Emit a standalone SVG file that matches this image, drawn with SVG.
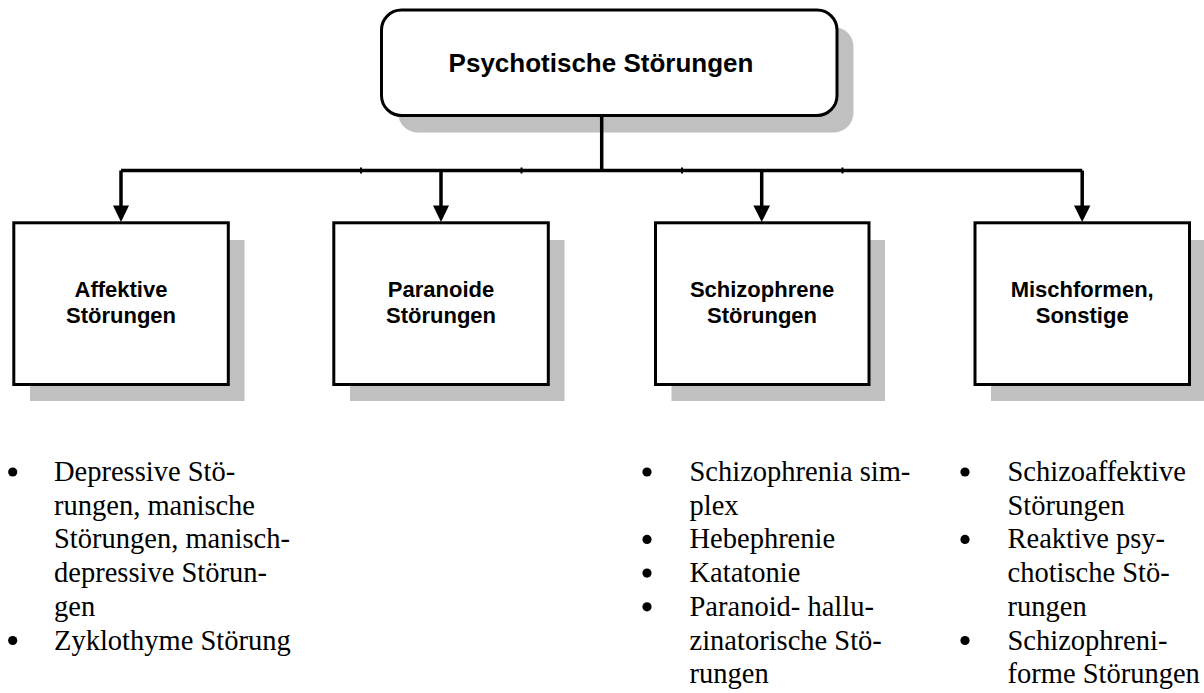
<svg xmlns="http://www.w3.org/2000/svg" width="1204" height="693" viewBox="0 0 1204 693">
  <style>
    .shadow { fill: #c0c0c0; stroke: none; }
    .box { fill: #ffffff; stroke: #000000; stroke-width: 3; }
    .title { font-family: "Liberation Sans", Arial, sans-serif; font-weight: bold; font-size: 26px; fill: #000; text-anchor: middle; }
    .label { font-family: "Liberation Sans", Arial, sans-serif; font-weight: bold; font-size: 22px; fill: #000; text-anchor: middle; }
    .item { font-family: "Liberation Serif", "Times New Roman", serif; font-size: 28.5px; fill: #000; }
    .dot { fill: #000; }
    .wire { fill: none; stroke: #000000; stroke-width: 3.5; }
    .head { fill: #000000; stroke: none; }
  </style>

  <rect width="1204" height="693" fill="#ffffff"/>

  <!-- root node -->
  <g id="node-root">
    <rect class="shadow" x="398" y="27" width="455.5" height="105.5" rx="20" ry="20"/>
    <rect class="box" x="381.5" y="10" width="455.5" height="105.5" rx="20" ry="20"/>
    <text class="title" x="601" y="71.5">Psychotische Störungen</text>
  </g>

  <!-- connectors -->
  <g id="connectors">
    <path class="wire" d="M601.7 116 V170.5"/>
    <path class="wire" d="M121 170.5 H1082.2"/>
    <!-- segment joints on the bus -->
    <rect class="head" x="360" y="167.5" width="2" height="6"/>
    <rect class="head" x="520.5" y="167.5" width="2" height="6"/>
    <rect class="head" x="681" y="167.5" width="2" height="6"/>
    <rect class="head" x="841.5" y="167.5" width="2" height="6"/>
    <path class="wire" d="M121 170.5 V207"/>
    <path class="wire" d="M441 170.5 V207"/>
    <path class="wire" d="M761.7 170.5 V207"/>
    <path class="wire" d="M1082.2 170.5 V207"/>
    <polygon class="head" points="113,205.5 129,205.5 121,222"/>
    <polygon class="head" points="433,205.5 449,205.5 441,222"/>
    <polygon class="head" points="753.4,205.5 770,205.5 761.7,222"/>
    <polygon class="head" points="1074,205.5 1090.4,205.5 1082.2,222"/>
  </g>

  <!-- category nodes -->
  <g id="node-affektiv">
    <rect class="shadow" x="30" y="240" width="214.5" height="161"/>
    <rect class="box" x="13.8" y="222.8" width="214.5" height="161.7"/>
    <text class="label" x="121" y="296.5">Affektive</text>
    <text class="label" x="121" y="323">Störungen</text>
  </g>
  <g id="node-paranoid">
    <rect class="shadow" x="350" y="240" width="214.5" height="161"/>
    <rect class="box" x="333.8" y="222.8" width="214.5" height="161.7"/>
    <text class="label" x="441" y="296.5">Paranoide</text>
    <text class="label" x="441" y="323">Störungen</text>
  </g>
  <g id="node-schizophren">
    <rect class="shadow" x="671.5" y="240" width="213.5" height="161"/>
    <rect class="box" x="655.5" y="222.8" width="213.5" height="161.7"/>
    <text class="label" x="762" y="296.5">Schizophrene</text>
    <text class="label" x="762" y="323">Störungen</text>
  </g>
  <g id="node-misch">
    <rect class="shadow" x="991" y="240" width="214.5" height="161"/>
    <rect class="box" x="975" y="222.8" width="214.5" height="161.7"/>
    <text class="label" x="1082.2" y="296.5">Mischformen,</text>
    <text class="label" x="1082.2" y="323">Sonstige</text>
  </g>

  <!-- bullet lists -->
  <g id="list-affektiv" class="item">
    <circle class="dot" cx="12.7" cy="472" r="4.6"/>
    <text x="54" y="481">Depressive Stö-</text>
    <text x="54" y="514.7">rungen, manische</text>
    <text x="54" y="548.4">Störungen, manisch-</text>
    <text x="54" y="582.1">depressive Störun-</text>
    <text x="54" y="615.8">gen</text>
    <circle class="dot" cx="12.7" cy="640.5" r="4.6"/>
    <text x="54" y="649.5">Zyklothyme Störung</text>
  </g>
  <g id="list-schizophren" class="item">
    <circle class="dot" cx="647" cy="472" r="4.6"/>
    <text x="689.5" y="481">Schizophrenia sim-</text>
    <text x="689.5" y="514.7">plex</text>
    <circle class="dot" cx="647" cy="539.4" r="4.6"/>
    <text x="689.5" y="548.4">Hebephrenie</text>
    <circle class="dot" cx="647" cy="573.1" r="4.6"/>
    <text x="689.5" y="582.1">Katatonie</text>
    <circle class="dot" cx="647" cy="606.8" r="4.6"/>
    <text x="689.5" y="615.8">Paranoid- hallu-</text>
    <text x="689.5" y="649.5">zinatorische Stö-</text>
    <text x="689.5" y="683.2">rungen</text>
  </g>
  <g id="list-misch" class="item">
    <circle class="dot" cx="965" cy="472" r="4.6"/>
    <text x="1007.5" y="481">Schizoaffektive</text>
    <text x="1007.5" y="514.7">Störungen</text>
    <circle class="dot" cx="965" cy="539.4" r="4.6"/>
    <text x="1007.5" y="548.4">Reaktive psy-</text>
    <text x="1007.5" y="582.1">chotische Stö-</text>
    <text x="1007.5" y="615.8">rungen</text>
    <circle class="dot" cx="965" cy="640.5" r="4.6"/>
    <text x="1007.5" y="649.5">Schizophreni-</text>
    <text x="1007.5" y="683.2">forme Störungen</text>
  </g>
</svg>
